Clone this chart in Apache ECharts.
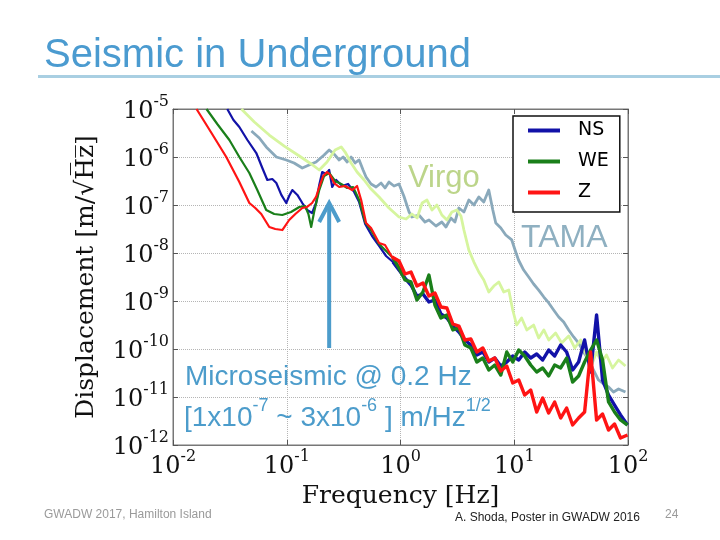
<!DOCTYPE html>
<html>
<head>
<meta charset="utf-8">
<script src="https://cdn.jsdelivr.net/npm/echarts@6/dist/echarts.min.js"></script>
<style>
html,body{margin:0;padding:0;background:#fff;}
#main{width:720px;height:540px;}
</style>
</head>
<body>
<div id="main"></div>
<script>
// ---------- tick labels (powers of ten) ----------
const xTickExps = [-2, -1, 0, 1, 2];
const yTickExps = [-12, -11, -10, -9, -8, -7, -6, -5];

// ---------- shared high-frequency grid for NS / WE / Z [Hz] ----------
const freqHi = [0.970, 1.095, 1.236, 1.395, 1.575, 1.778, 2.007, 2.266, 2.558, 2.887, 3.260, 3.680, 4.154, 4.690, 5.294, 5.976, 6.746, 7.615, 8.597, 9.70, 10.95, 12.36, 13.95, 15.75, 17.78, 20.07, 22.66, 25.58, 28.87, 32.60, 36.80, 41.54, 46.90, 52.94, 59.76, 67.46, 76.15, 85.97, 99.0];

// ---------- Z ----------
const freqZLow = [0.0161, 0.0218, 0.0294, 0.0383, 0.0469, 0.0529, 0.0597, 0.0702, 0.0793, 0.0914, 0.105, 0.119, 0.137, 0.151, 0.167, 0.181, 0.193, 0.209, 0.226, 0.241, 0.261, 0.289, 0.326, 0.376, 0.415, 0.451, 0.498, 0.551, 0.648, 0.731, 0.842];
const valZLow = [1.0e-5, 3.16e-6, 1.0e-6, 3.01e-7, 1.10e-7, 8.66e-8, 6.49e-8, 3.48e-8, 3.16e-8, 3.01e-8, 4.87e-8, 6.49e-8, 8.66e-8, 9.1e-8, 1.10e-7, 1.47e-7, 2.37e-7, 4.02e-7, 4.87e-7, 4.22e-7, 2.87e-7, 2.37e-7, 2.49e-7, 2.05e-7, 2.49e-7, 1.27e-7, 4.22e-8, 3.32e-8, 1.62e-8, 1.47e-8, 8.25e-9];
const valZHi = [6.81e-9, 3.65e-9, 4.02e-9, 2.05e-9, 2.37e-9, 1.27e-9, 1.47e-9, 7.5e-10, 7.15e-10, 3.32e-10, 3.01e-10, 1.54e-10, 1.62e-10, 8.66e-11, 1.05e-10, 5.62e-11, 6.49e-11, 3.48e-11, 4.42e-11, 1.96e-11, 2.26e-11, 1.10e-11, 1.40e-11, 4.87e-12, 9.53e-12, 4.64e-12, 7.87e-12, 3.65e-12, 5.90e-12, 2.61e-12, 3.65e-12, 4.87e-12, 8.66e-11, 3.32e-12, 4.42e-12, 2.05e-12, 2.74e-12, 1.40e-12, 1.62e-12];

// ---------- WE ----------
const freqWELow = [0.0197, 0.0245, 0.0313, 0.0383, 0.0469, 0.0551, 0.066, 0.0776, 0.0914, 0.109, 0.129, 0.145, 0.155, 0.164, 0.174, 0.193, 0.213, 0.236, 0.266, 0.301, 0.340, 0.383, 0.433, 0.489, 0.562, 0.648, 0.747, 0.859];
const valWELow = [1.0e-5, 4.87e-6, 2.26e-6, 1.0e-6, 4.64e-7, 2.05e-7, 7.87e-8, 6.49e-8, 6.19e-8, 7.15e-8, 9.1e-8, 9.53e-8, 6.49e-8, 3.48e-8, 7.15e-8, 2.05e-7, 4.02e-7, 4.64e-7, 3.16e-7, 2.74e-7, 2.26e-7, 2.37e-7, 1.27e-7, 4.42e-8, 2.74e-8, 1.54e-8, 1.10e-8, 7.87e-9];
const valWEHi = [4.87e-9, 2.74e-9, 2.49e-9, 1.05e-9, 1.54e-9, 3.48e-9, 8.25e-10, 4.42e-10, 5.11e-10, 2.49e-10, 2.74e-10, 1.21e-10, 1.05e-10, 5.36e-11, 6.49e-11, 3.65e-11, 4.64e-11, 2.87e-11, 8.66e-11, 5.36e-11, 9.53e-11, 7.15e-11, 4.64e-11, 3.32e-11, 4.02e-11, 2.74e-11, 4.64e-11, 4.02e-11, 6.49e-11, 2.05e-11, 2.74e-11, 5.36e-11, 9.53e-11, 1.54e-10, 5.90e-11, 7.87e-12, 4.87e-12, 3.32e-12, 2.61e-12];

// ---------- NS ----------
const freqNSLow = [0.030, 0.034, 0.0383, 0.0451, 0.054, 0.061, 0.0675, 0.0746, 0.081, 0.0896, 0.099, 0.105, 0.112, 0.124, 0.137, 0.151, 0.167, 0.181, 0.193, 0.205, 0.222, 0.236, 0.251, 0.272, 0.307, 0.346, 0.391, 0.433, 0.489, 0.562, 0.648, 0.747, 0.859];
const valNSLow = [1.0e-5, 5.90e-6, 4.22e-6, 2.26e-6, 1.21e-6, 5.90e-7, 3.32e-7, 3.48e-7, 2.87e-7, 1.62e-7, 1.10e-7, 1.54e-7, 2.05e-7, 1.62e-7, 1.10e-7, 7.87e-8, 6.81e-8, 1.10e-7, 2.61e-7, 4.87e-7, 4.42e-7, 5.36e-7, 2.37e-7, 3.32e-7, 2.49e-7, 2.74e-7, 1.87e-7, 1.15e-7, 4.02e-8, 2.26e-8, 1.40e-8, 8.66e-9, 6.49e-9];
const valNSHi = [4.42e-9, 3.01e-9, 2.15e-9, 1.27e-9, 1.40e-9, 9.53e-10, 1.05e-9, 5.36e-10, 4.42e-10, 3.01e-10, 2.26e-10, 1.54e-10, 1.21e-10, 7.5e-11, 8.66e-11, 5.36e-11, 6.49e-11, 4.42e-11, 5.36e-11, 7.15e-11, 5.9e-11, 8.66e-11, 6.49e-11, 7.87e-11, 5.9e-11, 9.53e-11, 7.15e-11, 1.21e-10, 8.66e-11, 3.65e-11, 5.36e-11, 1.54e-10, 3.32e-11, 5.11e-10, 2.26e-11, 1.10e-11, 6.81e-12, 4.22e-12, 2.61e-12];

// ---------- TAMA ----------
const freqTAMA = [0.0489, 0.0574, 0.066, 0.081, 0.099, 0.116, 0.137, 0.157, 0.181, 0.213, 0.236, 0.261, 0.289, 0.313, 0.340, 0.368, 0.399, 0.433, 0.469, 0.498, 0.551, 0.610, 0.675, 0.731, 0.792, 0.877, 0.970, 1.07, 1.19, 1.26, 1.45, 1.64, 1.78, 2.05, 2.31, 2.51, 2.77, 3.01, 3.26, 3.61, 3.99, 4.42, 4.88, 5.40, 5.97, 6.48, 6.88, 7.62, 8.42, 9.51, 10.3, 10.9, 12.1, 13.4, 14.8, 16.4, 18.2, 20.1, 22.2, 24.6, 27.2, 30.1, 33.3, 36.8, 40.7, 45.0, 49.8, 55.1, 61.0, 67.5, 74.6, 82.6, 95];
const valTAMA = [3.48e-6, 2.49e-6, 1.62e-6, 1.0e-6, 8.66e-7, 7.5e-7, 5.9e-7, 6.81e-7, 7.87e-7, 1.1e-6, 1.4e-6, 1.15e-6, 8.66e-7, 1.0e-6, 7.87e-7, 1.0e-6, 7.5e-7, 8.66e-7, 5.36e-7, 3.83e-7, 2.74e-7, 2.37e-7, 2.87e-7, 2.26e-7, 3.01e-7, 2.49e-7, 2.74e-7, 1.54e-7, 7.15e-8, 5.62e-8, 6.19e-8, 4.42e-8, 4.87e-8, 3.65e-8, 4.42e-8, 3.48e-8, 5.36e-8, 4.42e-8, 8.66e-8, 7.15e-8, 1.27e-7, 1.0e-7, 1.47e-7, 1.15e-7, 2.05e-7, 7.87e-8, 4.22e-8, 3.32e-8, 2.37e-8, 1.87e-8, 1.05e-8, 7.15e-9, 4.42e-9, 3.16e-9, 2.26e-9, 1.69e-9, 1.21e-9, 9.1e-10, 6.49e-10, 4.64e-10, 3.65e-10, 2.49e-10, 1.78e-10, 1.33e-10, 8.66e-11, 5.9e-11, 3.65e-11, 2.26e-11, 1.87e-11, 1.62e-11, 1.27e-11, 1.47e-11, 1.27e-11];

// ---------- Virgo ----------
const freqVirgo = [0.0399, 0.0519, 0.0702, 0.0951, 0.129, 0.164, 0.193, 0.226, 0.266, 0.301, 0.326, 0.368, 0.415, 0.479, 0.551, 0.648, 0.792, 0.97, 1.12, 1.26, 1.40, 1.55, 1.71, 1.89, 2.09, 2.31, 2.56, 2.83, 3.13, 3.40, 3.61, 3.99, 4.42, 4.88, 5.40, 5.97, 6.61, 7.31, 8.09, 8.95, 9.70, 10.5, 11.6, 12.9, 14.8, 16.4, 18.2, 20.1, 23.1, 26.1, 30.1, 34.0, 38.3, 43.3, 47.9, 52.9, 58.6, 64.7, 73.1, 82.6, 95];
const valVirgo = [1.0e-5, 5.36e-6, 2.87e-6, 1.69e-6, 1.05e-6, 7.15e-7, 5.36e-7, 7.87e-7, 1.4e-6, 1.62e-6, 1.27e-6, 7.5e-7, 4.87e-7, 3.32e-7, 2.15e-7, 1.47e-7, 8.66e-8, 5.62e-8, 5.11e-8, 6.49e-8, 5.36e-8, 1.1e-7, 1.27e-7, 7.87e-8, 1.0e-7, 6.19e-8, 4.87e-8, 7.15e-8, 7.87e-8, 5.9e-8, 3.01e-8, 1.15e-8, 6.49e-9, 4.02e-9, 2.74e-9, 1.54e-9, 2.05e-9, 2.49e-9, 1.54e-9, 1.69e-9, 6.49e-10, 3.16e-10, 4.42e-10, 2.49e-10, 3.16e-10, 1.69e-10, 2.49e-10, 1.54e-10, 2.15e-10, 1.33e-10, 1.87e-10, 1.05e-10, 1.54e-10, 7.15e-11, 4.64e-11, 8.66e-11, 5.36e-11, 7.5e-11, 4.02e-11, 5.9e-11, 4.42e-11];

// ---------- annotation (arrow at the microseismic peak) ----------
const arrowFreq = 0.236;
const arrowTipVal = 1.1e-7;
const arrowTailVal = 1.05e-10;

function pairs(fs, vs) { return fs.map((f, i) => [f, vs[i]]); }
function supLabel(v) {
  const e = Math.round(Math.log10(v));
  return '{b|10}{s|' + (e < 0 ? '-' + (-e) : String(e)) + '}';
}

const BLUE_T = '#4c9ccb';
const serif = '"DejaVu Serif", serif';
const richTick = {
  b: { fontFamily: serif, fontSize: 24, color: '#111', lineHeight: 30, verticalAlign: 'bottom' },
  s: { fontFamily: serif, fontSize: 16, color: '#111', lineHeight: 16, verticalAlign: 'top' }
};

const chart = echarts.init(document.getElementById('main'), null, { renderer: 'canvas' });

const xMin = Math.pow(10, xTickExps[0]), xMax = Math.pow(10, xTickExps[xTickExps.length - 1]);
const yMin = Math.pow(10, yTickExps[0]), yMax = Math.pow(10, yTickExps[yTickExps.length - 1]);

const lineSeries = (name, data, color, width, z) => ({
  name, type: 'line', data, showSymbol: false, symbol: 'none', silent: true,
  lineStyle: { color, width, join: 'round' }, itemStyle: { color }, z, clip: true, smooth: false
});

// low-frequency part (thin) and noisy high-frequency part (thicker band) of each direction
function split(name, fLow, vLow, vHi, color, z) {
  const last = fLow.length - 1;
  return [
    lineSeries(name, pairs(fLow, vLow).concat([[freqHi[0], vHi[0]]]), color, 2.2, z),
    lineSeries(name, [[fLow[last], vLow[last]]].concat(pairs(freqHi, vHi)), color, 3.4, z)
  ];
}

chart.setOption({
  animation: false,
  backgroundColor: '#ffffff',
  grid: { left: 173, right: 92, top: 109, bottom: 95, show: true, borderColor: '#777', borderWidth: 1, containLabel: false, outerBoundsMode: 'none' },
  legend: {
    data: ['NS', 'WE', 'Z'],
    orient: 'vertical', left: 513, top: 116,
    icon: 'rect', itemWidth: 32, itemHeight: 4, itemGap: 10,
    padding: [4, 11, 9, 15],
    borderColor: '#111', borderWidth: 1.5, backgroundColor: '#fff',
    textStyle: { fontFamily: '"DejaVu Sans", sans-serif', fontSize: 19, color: '#000', lineHeight: 21, padding: [0, 0, 0, 13] }
  },
  xAxis: [{
    type: 'log', logBase: 10, min: xMin, max: xMax, interval: 1, splitNumber: 4,
    name: 'Frequency [Hz]', nameLocation: 'middle', nameGap: 36,
    nameTextStyle: { fontFamily: serif, fontSize: 25, color: '#111' },
    axisLine: { show: true, lineStyle: { color: '#777', width: 1 } },
    axisTick: { show: true, inside: true, length: 5, lineStyle: { color: '#555' } },
    axisLabel: { formatter: supLabel, rich: richTick, margin: 4, showMinLabel: true, showMaxLabel: true },
    splitLine: { show: true, lineStyle: { color: '#b5b5b5', type: 'dotted', width: 1 } }
  }, {
    type: 'log', logBase: 10, min: xMin, max: xMax, interval: 1, position: 'top',
    axisLine: { show: true, lineStyle: { color: '#777' } },
    axisTick: { show: true, inside: true, length: 5, lineStyle: { color: '#555' } },
    axisLabel: { show: false }, splitLine: { show: false }
  }],
  yAxis: [{
    type: 'log', logBase: 10, min: yMin, max: yMax, interval: 1, splitNumber: 7,
    name: 'Displacement [m/\u221AH\u0305z\u0305]', nameLocation: 'middle', nameGap: 74, nameRotate: 90,
    nameTextStyle: { fontFamily: serif, fontSize: 25, color: '#111' },
    axisLine: { show: true, lineStyle: { color: '#777', width: 1 } },
    axisTick: { show: true, inside: true, length: 5, lineStyle: { color: '#555' } },
    axisLabel: { formatter: supLabel, rich: richTick, margin: 4, showMinLabel: true, showMaxLabel: true },
    splitLine: { show: true, lineStyle: { color: '#b5b5b5', type: 'dotted', width: 1 } }
  }, {
    type: 'log', logBase: 10, min: yMin, max: yMax, interval: 1, position: 'right',
    axisLine: { show: true, lineStyle: { color: '#777' } },
    axisTick: { show: true, inside: true, length: 5, lineStyle: { color: '#555' } },
    axisLabel: { show: false }, splitLine: { show: false }
  }],
  series: [
    lineSeries('TAMA', pairs(freqTAMA, valTAMA), '#8aa9bb', 2.8, 2),
    lineSeries('Virgo', pairs(freqVirgo, valVirgo), '#d6f59e', 2.8, 3)
  ].concat(
    split('NS', freqNSLow, valNSLow, valNSHi, '#1212a8', 4),
    split('WE', freqWELow, valWELow, valWEHi, '#1a7f1a', 5),
    split('Z', freqZLow, valZLow, valZHi, '#ff1414', 6)
  )
});

const tip = chart.convertToPixel({ gridIndex: 0 }, [arrowFreq, arrowTipVal]);
const tail = chart.convertToPixel({ gridIndex: 0 }, [arrowFreq, arrowTailVal]);

chart.setOption({
  graphic: [
    { type: 'text', left: 44, top: 36, silent: true,
      style: { text: 'Seismic in Underground', font: '40px "Liberation Sans", Arial, sans-serif', fill: '#4b9bd0' } },
    { type: 'line', silent: true, shape: { x1: 38, y1: 76.5, x2: 720, y2: 76.5 }, style: { stroke: '#a9cfe2', lineWidth: 3 } },
    { type: 'text', left: 408, top: 163, silent: true, z: 10,
      style: { text: 'Virgo', font: '31px "Liberation Sans", Arial, sans-serif', fill: '#bcd58a' } },
    { type: 'text', left: 521, top: 222, silent: true, z: 10,
      style: { text: 'TAMA', font: '32px "Liberation Sans", Arial, sans-serif', fill: '#8fb0c1' } },
    { type: 'line', silent: true, z: 20, shape: { x1: tail[0], y1: tail[1], x2: tip[0], y2: tip[1] + 2 },
      style: { stroke: BLUE_T, lineWidth: 4 } },
    { type: 'polyline', silent: true, z: 20,
      shape: { points: [[tip[0] - 10, tip[1] + 19], [tip[0], tip[1]], [tip[0] + 10, tip[1] + 19]] },
      style: { stroke: BLUE_T, lineWidth: 4, fill: null, lineJoin: 'miter' } },
    { type: 'text', left: 185, top: 363, silent: true, z: 20,
      style: { text: 'Microseismic @ 0.2 Hz', font: '28px "Liberation Sans", Arial, sans-serif', fill: BLUE_T } },
    { type: 'text', left: 184, top: 397, silent: true, z: 20,
      style: {
        text: '{a|[1x10}{s|-7}{a| ~ 3x10}{s|-6}{a| ] m/Hz}{s|1/2}',
        rich: {
          a: { font: '28px "Liberation Sans", Arial, sans-serif', fill: BLUE_T, lineHeight: 35, verticalAlign: 'bottom' },
          s: { font: '18px "Liberation Sans", Arial, sans-serif', fill: BLUE_T, lineHeight: 19, verticalAlign: 'top' }
        }
      } },
    { type: 'text', left: 44, top: 509, silent: true,
      style: { text: 'GWADW 2017, Hamilton Island', font: '12px "Liberation Sans", Arial, sans-serif', fill: '#9a9a9a' } },
    { type: 'text', left: 455, top: 512, silent: true,
      style: { text: 'A. Shoda, Poster in GWADW 2016', font: '12px "Liberation Sans", Arial, sans-serif', fill: '#222' } },
    { type: 'text', left: 665, top: 509, silent: true,
      style: { text: '24', font: '12px "Liberation Sans", Arial, sans-serif', fill: '#9a9a9a' } }
  ]
});
</script>
</body>
</html>
